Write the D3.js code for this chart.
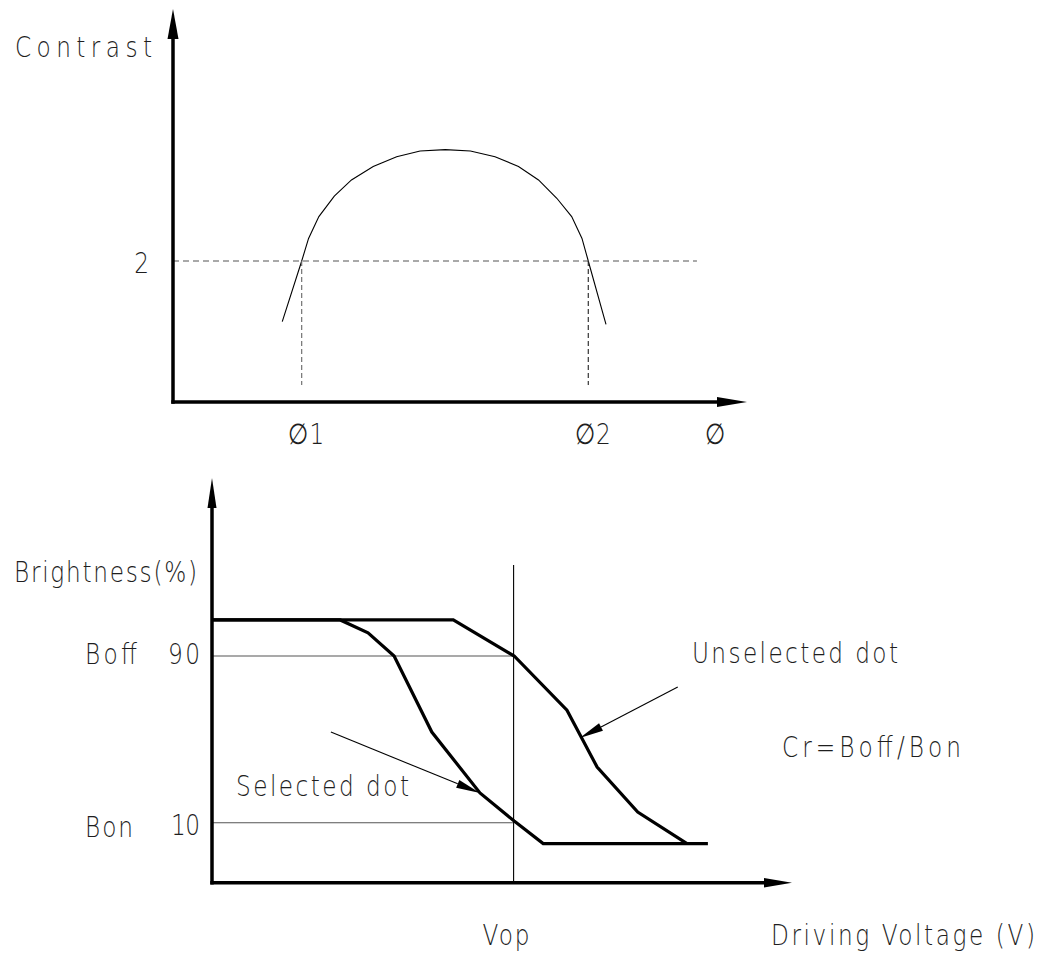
<!DOCTYPE html>
<html lang="en">
<head>
  <meta charset="UTF-8">
  <title>Contrast / Brightness vs Driving Voltage</title>
  <script src="https://d3js.org/d3.v7.min.js"></script>
  <style>
    body { margin: 0; background: #fff; }
    svg { display: block; }
    .lbl, .tick text {
      font-family: "DejaVu Sans", sans-serif;
      font-weight: 200;
      font-size: 29px;
      fill: #1e1e1e;
    }
  </style>
</head>
<body>
  <svg width="1038" height="958"></svg>

  <script>
    // ---- top chart: contrast vs viewing angle
    const contrastPhi = [19.1, 22.5, 23.7, 25.5, 28.2, 31.2, 35.0, 39.1, 43.2, 47.6, 52.0, 56.3, 60.4, 63.9, 67.1, 69.7, 71.5, 72.6, 75.7];
    const contrastVal = [1.14, 2.0, 2.32, 2.63, 2.92, 3.15, 3.34, 3.48, 3.56, 3.58, 3.56, 3.48, 3.34, 3.15, 2.89, 2.63, 2.32, 2.0, 1.10];
    const phiTicks = [22.5, 72.6];
    const phiTickLabels = ["∅1", "∅2"];
    const contrastTicks = [2];
    const contrastThreshold = 2;
    const thresholdEnd = 91.6;
    const dropEnd = 0.24;

    // ---- bottom chart: brightness vs driving voltage
    const voltSel = [0, 22.1, 26.9, 31.4, 37.9, 46.2, 52.1, 57.1, 85.5];
    const brightSel = [107.3, 107.3, 101.1, 90, 53.5, 24.3, 10.8, 0, 0];
    const voltUns = [0, 41.6, 52.1, 61.2, 66.4, 73.4, 81.9];
    const brightUns = [107.3, 107.3, 90, 64, 36.7, 15.1, 0];
    const brightTicks = [90, 10];
    const brightNames = ["Boff", "Bon"];
    const vop = 52;

    const svg = d3.select("svg");
    const SX = 0.8; // narrow, widely spaced drafting-style lettering

    function arrowHead(g, x, y, dir, len, hw) {
      // dir: "up" or "right", tip at (x, y)
      const pts = dir === "up"
        ? [[x, y], [x - hw, y + len], [x + hw, y + len]]
        : [[x, y], [x - len, y - hw], [x - len, y + hw]];
      g.append("path").attr("d", "M" + pts.join("L") + "Z").attr("fill", "#000");
    }

    // squeeze glyphs horizontally, then stretch the spacing to the wanted width
    function cad(sel, width) {
      sel.each(function(d, i) {
        const t = d3.select(this);
        const w = typeof width === "function" ? width(d, i) : width;
        const x = +t.attr("x") || 0;
        const dx = parseFloat(t.attr("dx")) || 0;
        t.attr("transform", `scale(${SX},1)`)
          .attr("x", x / SX).attr("dx", dx / SX)
          .attr("textLength", w / SX).attr("lengthAdjust", "spacing");
      });
      return sel;
    }

    function label(g, text, x, y, width) {
      return cad(g.append("text").attr("class", "lbl")
        .attr("x", x).attr("y", y).text(text), width);
    }

    // ===== top chart
    const xTop = d3.scaleLinear().domain([0, 100]).range([173, 745]);
    const yTop = d3.scaleLinear().domain([0, 2]).range([402, 261]);
    const gTop = svg.append("g");

    gTop.append("path")
      .attr("d", d3.line().x(d => xTop(d[0])).y(d => yTop(d[1]))(d3.zip(contrastPhi, contrastVal)))
      .attr("fill", "none").attr("stroke", "#000").attr("stroke-width", 1.1);

    gTop.append("line")
      .attr("x1", xTop(0)).attr("x2", xTop(thresholdEnd))
      .attr("y1", yTop(contrastThreshold)).attr("y2", yTop(contrastThreshold))
      .attr("stroke", "#555").attr("stroke-width", 1.2).attr("stroke-dasharray", "6,4");

    gTop.selectAll(".drop").data(phiTicks).join("line")
      .attr("class", "drop")
      .attr("x1", d => xTop(d)).attr("x2", d => xTop(d))
      .attr("y1", yTop(contrastThreshold)).attr("y2", yTop(dropEnd))
      .attr("stroke", (d, i) => i ? "#222" : "#666").attr("stroke-width", 1.1)
      .attr("stroke-dasharray", "5,3");

    // axes with arrow heads
    gTop.append("line")
      .attr("x1", xTop(0)).attr("x2", xTop(0)).attr("y1", yTop(0) + 1.7).attr("y2", 25)
      .attr("stroke", "#000").attr("stroke-width", 3.5);
    arrowHead(gTop, xTop(0), 9, "up", 30, 5.5);
    gTop.append("line")
      .attr("x1", xTop(0) - 1.7).attr("x2", xTop(100) - 15).attr("y1", yTop(0)).attr("y2", yTop(0))
      .attr("stroke", "#000").attr("stroke-width", 3.5);
    arrowHead(gTop, xTop(100) + 2, yTop(0), "right", 30, 5);

    gTop.append("g")
      .attr("transform", `translate(${xTop(0)},0)`)
      .call(d3.axisLeft(yTop).tickValues(contrastTicks).tickSize(0).tickPadding(24).tickFormat(d3.format("d")))
      .call(g => g.select(".domain").remove())
      .selectAll("text").attr("dy", "0.4em")
      .call(cad, 16);

    gTop.append("g")
      .attr("transform", `translate(0,${yTop(0)})`)
      .call(d3.axisBottom(xTop).tickValues(phiTicks).tickSize(0).tickPadding(0)
        .tickFormat((d, i) => phiTickLabels[i]))
      .call(g => g.select(".domain").remove())
      .selectAll("text").attr("y", 42).attr("dy", 0).attr("dx", 4)
      .call(cad, 36);

    label(gTop, "Contrast", 15, 57, 137);
    label(gTop, "∅", 705, 444, 18);

    // ===== bottom chart
    const xBot = d3.scaleLinear().domain([0, 100]).range([212, 792]);
    const yBot = d3.scaleLinear().domain([10, 90]).range([822.7, 656]);
    const gBot = svg.append("g");
    const xAxisVal = -18.8;

    // reference lines at Boff / Bon
    gBot.selectAll(".ref").data(brightTicks).join("line")
      .attr("class", "ref")
      .attr("x1", xBot(0)).attr("x2", xBot(vop))
      .attr("y1", d => yBot(d)).attr("y2", d => yBot(d))
      .attr("stroke", "#555").attr("stroke-width", 1.1);

    gBot.append("line")
      .attr("x1", xBot(vop)).attr("x2", xBot(vop))
      .attr("y1", yBot(xAxisVal)).attr("y2", yBot(133.7))
      .attr("stroke", "#000").attr("stroke-width", 1.1);

    const vLine = d3.line().x(d => xBot(d[0])).y(d => yBot(d[1]));
    [[voltSel, brightSel], [voltUns, brightUns]].forEach(([v, b]) => {
      gBot.append("path")
        .attr("d", vLine(d3.zip(v, b)))
        .attr("fill", "none").attr("stroke", "#000").attr("stroke-width", 3.2)
        .attr("stroke-linejoin", "miter");
    });

    // leader arrows
    const leaders = [
      { from: [20.5, 53.5], to: [46.2, 24.3] },
      { from: [80.3, 75.1], to: [63.4, 50.6] }
    ];
    leaders.forEach(l => {
      const x0 = xBot(l.from[0]), y0 = yBot(l.from[1]);
      const x1 = xBot(l.to[0]), y1 = yBot(l.to[1]);
      const a = Math.atan2(y1 - y0, x1 - x0);
      const len = 24, hw = 4.2;
      const bx = x1 - len * Math.cos(a), by = y1 - len * Math.sin(a);
      gBot.append("line").attr("x1", x0).attr("y1", y0).attr("x2", bx).attr("y2", by)
        .attr("stroke", "#000").attr("stroke-width", 1.1);
      const p = [[x1, y1],
        [bx + hw * Math.sin(a), by - hw * Math.cos(a)],
        [bx - hw * Math.sin(a), by + hw * Math.cos(a)]];
      gBot.append("path").attr("d", "M" + p.join("L") + "Z").attr("fill", "#000");
    });

    // axes
    gBot.append("line")
      .attr("x1", xBot(0)).attr("x2", xBot(0)).attr("y1", yBot(xAxisVal) + 1.7).attr("y2", 493)
      .attr("stroke", "#000").attr("stroke-width", 3.5);
    arrowHead(gBot, xBot(0), 478, "up", 30, 4.5);
    gBot.append("line")
      .attr("x1", xBot(0) - 1.7).attr("x2", xBot(100) - 14).attr("y1", yBot(xAxisVal)).attr("y2", yBot(xAxisVal))
      .attr("stroke", "#000").attr("stroke-width", 3.5);
    arrowHead(gBot, xBot(100), yBot(xAxisVal), "right", 28, 4.8);

    gBot.append("g")
      .attr("transform", `translate(${xBot(0)},0)`)
      .call(d3.axisLeft(yBot).tickValues(brightTicks).tickSize(0).tickPadding(12).tickFormat(d3.format("d")))
      .call(g => g.select(".domain").remove())
      .selectAll("text").attr("dy", (d, i) => i ? "0.42em" : "0.26em")
      .call(cad, (d, i) => i ? 29 : 32);

    gBot.selectAll(".bname").data(brightTicks).join("text")
      .attr("class", "lbl bname")
      .attr("x", 85).attr("y", (d, i) => yBot(d) + (i ? 14.5 : 8))
      .text((d, i) => brightNames[i])
      .call(cad, (d, i) => i ? 48 : 52);

    gBot.append("g")
      .attr("transform", `translate(0,${yBot(xAxisVal)})`)
      .call(d3.axisBottom(xBot).tickValues([vop]).tickSize(0).tickPadding(0).tickFormat(() => "Vop"))
      .call(g => g.select(".domain").remove())
      .selectAll("text").attr("y", 62).attr("dy", 0).attr("dx", -8)
      .call(cad, 47);

    label(gBot, "Brightness(%)", 14, 582, 183);
    label(gBot, "Selected dot", 236, 796, 173);
    label(gBot, "Unselected dot", 692, 663, 206);
    label(gBot, "Cr=Boff/Bon", 782, 757, 179);
    label(gBot, "Driving Voltage (V)", 771, 945, 264);
  </script>
</body>
</html>
